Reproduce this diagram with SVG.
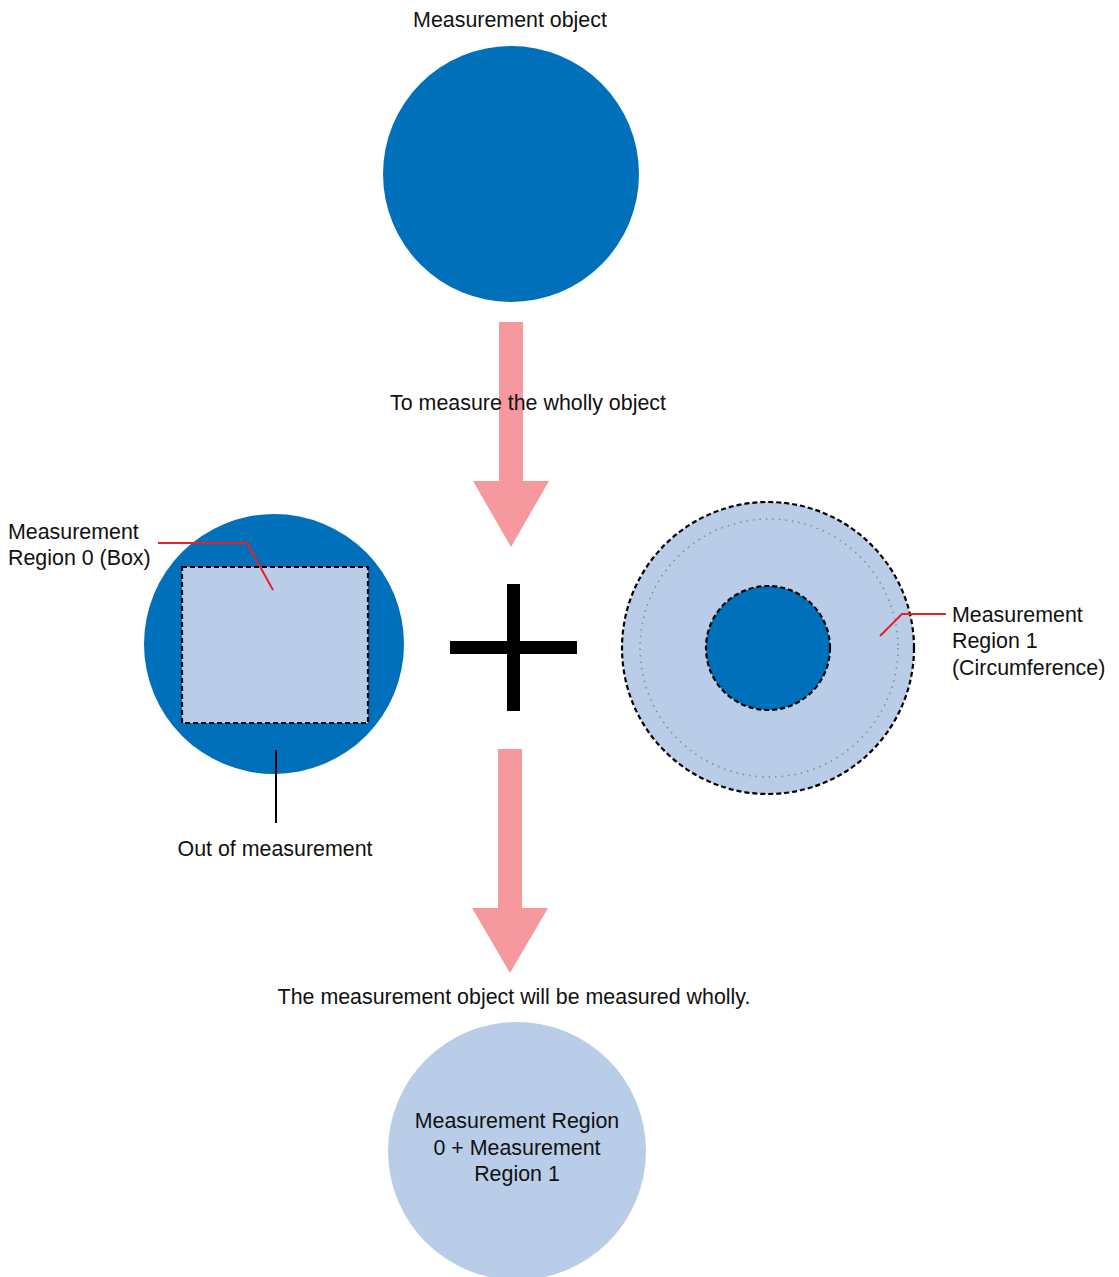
<svg xmlns="http://www.w3.org/2000/svg" width="1119" height="1277" viewBox="0 0 1119 1277">
<style>
text{font-family:"Liberation Sans",Arial,sans-serif;font-size:21.4px;fill:#111}
.blue{fill:#0070BA}
.light{fill:#B9CDE8}
.arrow{fill:#F5999E}
.dash{fill:none;stroke:#000;stroke-width:2.2;stroke-dasharray:5 3}
.lead{fill:none;stroke:#E8202A;stroke-width:2}
</style>
<rect width="1119" height="1277" fill="#fff"/>
<g id="object">
<circle class="blue" cx="511" cy="174" r="128"/>
<text x="510" y="27" text-anchor="middle">Measurement object</text>
</g>
<g id="region0">
<circle class="blue" cx="274" cy="644" r="130"/>
<rect class="light" x="182" y="567" width="186" height="156"/>
<rect class="dash" x="182" y="567" width="186" height="156"/>
<text x="8" y="539">Measurement</text>
<text x="8" y="565">Region 0 (Box)</text>
<text x="275" y="856" text-anchor="middle">Out of measurement</text>
</g>
<g id="plus">
<rect x="507" y="584" width="13" height="127" fill="#000"/>
<rect x="450" y="641" width="127" height="13" fill="#000"/>
</g>
<g id="region1">
<circle class="light" cx="768" cy="648" r="146"/>
<circle class="dash" cx="768" cy="648" r="146"/>
<circle cx="769" cy="648" r="129" fill="none" stroke="#8a8a8a" stroke-width="1.5" stroke-dasharray="1.5 5"/>
<circle class="blue" cx="768" cy="648" r="62"/>
<circle class="dash" cx="768" cy="648" r="62"/>
<text x="952" y="622">Measurement</text>
<text x="952" y="648">Region 1</text>
<text x="952" y="675">(Circumference)</text>
</g>
<g id="result">
<circle class="light" cx="517" cy="1151" r="129"/>
<text x="517" y="1128" text-anchor="middle">Measurement Region</text>
<text x="517" y="1155" text-anchor="middle">0 + Measurement</text>
<text x="517" y="1181" text-anchor="middle">Region 1</text>
</g>
<g id="connectors">
<polygon class="arrow" points="499,322 523,322 523,481 549,481 511,547 473,481 499,481"/>
<text x="528" y="410" text-anchor="middle">To measure the wholly object</text>
<polygon class="arrow" points="498,749 522,749 522,908 548,908 510,973 472,908 498,908"/>
<text x="514" y="1004" text-anchor="middle">The measurement object will be measured wholly.</text>
<polyline class="lead" points="158,543 247,543 273,590"/>
<line x1="276" y1="750" x2="276" y2="823" stroke="#000" stroke-width="2"/>
<polyline class="lead" points="880,636 902,614 946,614"/>
</g>
</svg>
